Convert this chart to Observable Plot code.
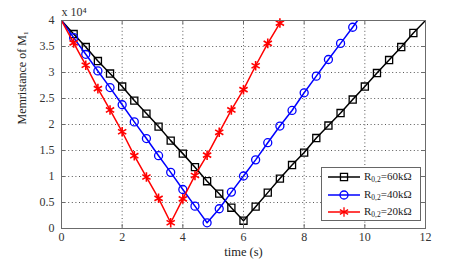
<!DOCTYPE html>
<html><head><meta charset="utf-8">
<script src="https://cdn.jsdelivr.net/npm/d3@7"></script>
<script src="https://cdn.jsdelivr.net/npm/@observablehq/plot@0.6"></script>
<style>
body{margin:0;background:#fff}
#wrap{position:relative;width:471px;height:263px;font-family:'Liberation Serif',serif}
#wrap svg, #wrap svg text{font-family:'Liberation Serif',serif !important}
#legend{position:absolute;left:321px;top:167px;width:100px;height:54px;border:1px solid #666;background:#fff;box-sizing:border-box;font-family:'Liberation Serif',serif}
.row{position:absolute;left:0;height:16px;display:flex;align-items:center;font-size:11px;color:#222;white-space:nowrap}
.row svg{margin-left:5px;margin-right:3px}
.row sub{font-size:7.5px;vertical-align:-2px}
</style>
</head><body><div id="wrap"></div>
<script>
// Time samples (s) and memristance values (x 10^4) per series
const times60 = [0,0.4,0.8,1.2,1.6,2,2.4,2.8,3.2,3.6,4,4.4,4.8,5.2,5.6,6,6.4,6.8,7.2,7.6,8,8.4,8.8,9.2,9.6,10,10.4,10.8,11.2,11.6,12];
const r60 = [4,3.74,3.49,3.22,2.98,2.73,2.46,2.21,1.96,1.69,1.44,1.18,0.91,0.67,0.40,0.15,0.42,0.69,0.96,1.22,1.46,1.74,1.98,2.22,2.48,2.73,2.99,3.24,3.49,3.76,4.0];
const times40 = [0,0.4,0.8,1.2,1.6,2,2.4,2.8,3.2,3.6,4,4.4,4.8,5.2,5.6,6,6.4,6.8,7.2,7.6,8,8.4,8.8,9.2,9.6,10];
const r40 = [4,3.67,3.35,3.03,2.71,2.38,2.05,1.73,1.40,1.08,0.75,0.43,0.11,0.38,0.70,1.01,1.32,1.65,1.97,2.27,2.61,2.93,3.25,3.56,3.87,4.19];
const times20 = [0,0.4,0.8,1.2,1.6,2,2.4,2.8,3.2,3.6,4,4.4,4.8,5.2,5.6,6,6.4,6.8,7.2,7.6];
const r20 = [4,3.57,3.14,2.69,2.28,1.86,1.40,0.99,0.58,0.11,0.57,1.02,1.41,1.85,2.28,2.67,3.13,3.56,3.95,4.38];
const seriesNames = ["R0,2=60kΩ","R0,2=40kΩ","R0,2=20kΩ"];
const seriesColors = ["#000000","#0000ff","#ff0000"];
const seriesSymbols = ["square","circle","asterisk"];
const xTicks = [0,2,4,6,8,10,12];
const yTicks = [0,0.5,1,1.5,2,2.5,3,3.5,4];

const seriesData = [[times60,r60],[times40,r40],[times20,r20]];
const rows = seriesData.flatMap(([ts,vs],i)=>ts.map((t,j)=>({t, v: vs[j], s: i})));
const markerRows = rows.filter(d => d.t > 0 && d.t < 12 && d.v < 4);

const innerX = xTicks.slice(1,-1), innerY = yTicks.slice(1,-1);
const gridColor = "#444";
const frameColor = "#6b6b6b";
const serif = "Liberation Serif";

const marks = [
  Plot.ruleX(innerX, {x: d=>d, stroke: gridColor, strokeDasharray: "1,2.6", strokeWidth: 0.9}),
  Plot.ruleY(innerY, {y: d=>d, stroke: gridColor, strokeDasharray: "1,2.6", strokeWidth: 0.9})
];
[0,1,2].forEach(i => {
  const line = rows.filter(d => d.s === i);
  const pts = markerRows.filter(d => d.s === i);
  marks.push(Plot.line(line, {x: "t", y: "v", stroke: seriesColors[i], strokeWidth: 1.5, clip: true}));
  marks.push(Plot.dot(pts, {x: "t", y: "v", symbol: () => seriesSymbols[i], r: i === 2 ? 4.5 : 4, stroke: seriesColors[i], fill: "none", strokeWidth: i === 2 ? 1.6 : 1.3}));
});
marks.push(
  Plot.frame({stroke: frameColor, strokeWidth: 1}),
  Plot.tickX(xTicks, {x: d=>d, insetTop: 204, stroke: frameColor}),
  Plot.tickX(xTicks, {x: d=>d, insetBottom: 204, stroke: frameColor}),
  Plot.tickY(yTicks, {y: d=>d, insetRight: 360, stroke: frameColor}),
  Plot.tickY(yTicks, {y: d=>d, insetLeft: 360, stroke: frameColor}),
  Plot.axisX(xTicks, {tickSize: 0, tickPadding: 4, label: null, fontSize: 12, fill: "#333", tickFormat: d => String(d), fontFamily: serif}),
  Plot.axisY(yTicks, {tickSize: 0, tickPadding: 7, label: null, fontSize: 12, fill: "#333", tickFormat: d => String(d), fontFamily: serif}),
  Plot.text(["time (s)"], {text: d=>d, frameAnchor: "bottom", dy: 23, lineAnchor: "middle", fontSize: 12.5, fill: "#222", fontFamily: serif}),
  Plot.text(["Memristance of M₁"], {text: d=>d, frameAnchor: "left", dx: -39, rotate: -90, lineAnchor: "middle", fontSize: 12, fill: "#222", fontFamily: serif}),
  Plot.text(["x 10⁴"], {text: d=>d, frameAnchor: "top-left", dy: -8, textAnchor: "start", lineAnchor: "middle", fontSize: 12, fill: "#333", fontFamily: serif})
);

const chart = Plot.plot({
  width: 471, height: 263,
  marginLeft: 61, marginRight: 46, marginTop: 20, marginBottom: 35,
  x: {domain: [0,12]},
  y: {domain: [0,4]},
  style: {fontFamily: serif, fontSize: "11px", background: "white", overflow: "visible"},
  marks
});
const wrap = document.getElementById("wrap");
wrap.appendChild(chart);

// Legend
const legend = document.createElement("div");
legend.id = "legend";
seriesNames.forEach((name,i) => {
  const row = document.createElement("div");
  row.className = "row";
  row.style.top = (1 + i*17.5) + "px";
  const sym = d3.symbol(i===0 ? d3.symbolSquare : i===1 ? d3.symbolCircle : d3.symbolAsterisk, i===2 ? Math.PI*4.5*4.5 : Math.PI*16)();
  row.innerHTML = `<svg width="34" height="12"><line x1="1" x2="33" y1="6" y2="6" stroke="${seriesColors[i]}" stroke-width="1.5"/><path d="${sym}" transform="translate(17,6)" fill="none" stroke="${seriesColors[i]}" stroke-width="1.3"/></svg><span>R<sub>0,2</sub>=${name.split("=")[1]}</span>`;
  legend.appendChild(row);
});
wrap.appendChild(legend);
</script>
</body></html>
